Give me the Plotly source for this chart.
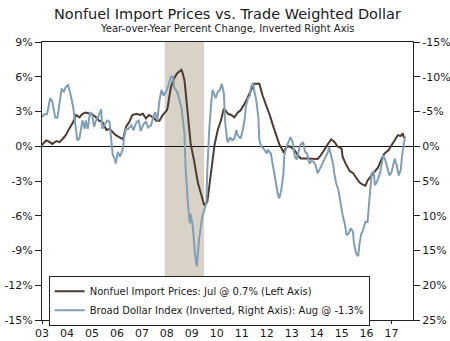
import plotly.graph_objects as go

# ---- Data ----
import_dates = [
    "2003-01-01","2003-03-01","2003-04-15","2003-06-01","2003-08-01","2003-09-15","2003-11-01","2003-12-15",
    "2004-02-01","2004-04-01","2004-05-15","2004-07-01","2004-08-15","2004-10-01","2004-12-01",
    "2005-01-15","2005-03-01","2005-04-15","2005-06-01","2005-08-01","2005-09-15","2005-11-01","2005-12-15",
    "2006-02-15","2006-04-01","2006-05-15","2006-07-01","2006-08-15","2006-10-15","2006-12-01",
    "2007-01-15","2007-03-01","2007-04-15","2007-06-15","2007-08-01","2007-09-15","2007-11-01",
    "2008-01-01","2008-01-15","2008-02-01","2008-03-01","2008-04-15","2008-06-01","2008-08-01","2008-08-15",
    "2008-09-15","2008-11-01","2008-12-15","2009-02-01","2009-04-01","2009-05-15","2009-07-01","2009-08-15",
    "2009-10-15","2009-12-01","2010-01-15","2010-03-01","2010-04-15","2010-06-15","2010-08-01","2010-09-15",
    "2010-11-01","2010-12-15","2011-02-15","2011-04-01","2011-05-15","2011-07-01","2011-09-15","2011-11-01",
    "2012-01-01","2012-02-15","2012-04-01","2012-05-15","2012-07-01","2012-09-01","2012-10-15","2012-12-01",
    "2013-02-15","2013-04-01","2013-05-15","2013-08-15","2013-12-01","2014-01-15","2014-03-01","2014-04-15",
    "2014-06-15","2014-08-01","2014-09-15","2014-11-01","2015-01-01","2015-01-15","2015-03-01","2015-05-01",
    "2015-06-15","2015-08-01","2015-09-15","2015-11-01","2015-12-15","2016-01-15","2016-03-01","2016-05-01",
    "2016-06-15","2016-08-01","2016-09-15","2016-11-15","2017-01-01","2017-02-15","2017-04-01","2017-05-15",
    "2017-06-15","2017-07-01",
]
import_prices = [
    0.1, 0.5, 0.4, 0.2, 0.45, 0.35, 0.65, 0.95,
    1.5, 2.1, 2.7, 2.5, 2.8, 2.9, 2.8,
    2.7, 2.5, 2.2, 2.1, 1.4, 1.5, 1.2, 0.95,
    0.75, 0.6, 1.7, 2.1, 2.7, 2.8, 2.7,
    2.8, 2.4, 2.7, 2.5, 2.2, 2.2, 2.7,
    3.1, 3.4, 4.1, 5.1, 5.85, 6.3, 6.6, 6.4,
    5.7, 2.8, 0.2, -1.2, -3.2, -4.1, -5.1, -4.8,
    -2.1, 0.2, 1.4, 2.2, 3.25, 2.8, 2.7, 2.5,
    2.9, 3.1, 3.7, 4.3, 4.8, 5.4, 5.4, 4.4,
    3.4, 2.7, 1.8, 0.95, 0.2, -0.5, -0.1, 0.0,
    -0.35, -0.8, -1.05, -1.05, -1.1, -1.1, -0.8, -0.35,
    0.2, 0.6, 0.4, 0.0, -0.2, -0.9, -1.5, -2.15,
    -2.3, -2.7, -3.1, -3.3, -3.4, -2.95, -2.6, -2.1,
    -1.85, -1.2, -0.65, -0.35, 0.1, 0.5, 0.95, 0.9,
    1.1, 0.7,
]

dollar_dates = [
    "2003-01-01","2003-02-01","2003-03-15","2003-05-01","2003-06-01","2003-07-15","2003-08-15","2003-10-01",
    "2003-10-15","2003-11-15","2003-12-15","2004-01-15","2004-02-15","2004-04-01","2004-05-01","2004-06-01",
    "2004-07-01","2004-08-01","2004-08-15","2004-09-15","2004-10-01","2004-11-01","2004-12-01","2005-01-01",
    "2005-02-01","2005-03-01","2005-04-01","2005-05-15","2005-06-01","2005-07-15","2005-08-15","2005-09-15",
    "2005-10-01","2005-11-01","2005-12-01","2005-12-15","2006-01-15","2006-02-15","2006-04-01","2006-04-15",
    "2006-05-15","2006-06-15","2006-08-01","2006-09-01","2006-10-15","2006-11-15","2006-12-15","2007-02-01",
    "2007-03-01","2007-04-01","2007-05-15","2007-06-15","2007-07-15","2007-08-15","2007-09-15","2007-10-15",
    "2007-11-15","2008-01-01","2008-02-01","2008-03-01","2008-04-01","2008-04-15","2008-06-01","2008-08-01",
    "2008-09-15","2008-10-01","2008-11-01","2008-12-01","2008-12-15","2009-01-15","2009-02-15","2009-03-15",
    "2009-04-15","2009-06-01","2009-07-01","2009-08-01","2009-08-15","2009-09-15","2009-10-15","2009-11-01",
    "2009-12-01","2009-12-15","2010-01-15","2010-02-15","2010-03-15","2010-04-15","2010-05-01","2010-06-01",
    "2010-06-15","2010-07-15","2010-08-15","2010-09-15","2010-10-15","2010-11-01","2010-12-15","2011-01-15",
    "2011-02-15","2011-03-01","2011-04-01","2011-05-01","2011-05-15","2011-06-15","2011-07-01","2011-08-01",
    "2011-09-01","2011-09-15","2011-10-15","2011-11-15","2012-01-01","2012-01-15","2012-03-01","2012-04-01",
    "2012-05-01","2012-06-15","2012-07-01","2012-08-01","2012-09-01","2012-09-15","2012-10-15","2012-12-01",
    "2012-12-15","2013-01-15","2013-02-15","2013-03-15","2013-04-01","2013-05-01","2013-06-15","2013-07-15",
    "2013-08-15","2013-09-15","2013-10-15","2013-11-15","2013-12-15","2014-01-15","2014-03-01","2014-04-01",
    "2014-05-01","2014-06-15","2014-07-01","2014-08-01","2014-09-01","2014-09-15","2014-10-15","2014-11-15",
    "2014-12-15","2015-01-15","2015-02-15","2015-03-15","2015-04-15","2015-05-15","2015-06-15","2015-07-01",
    "2015-08-01","2015-09-01","2015-09-15","2015-10-15","2015-11-01","2015-12-15","2016-01-15","2016-02-01",
    "2016-03-01","2016-03-15","2016-04-15","2016-05-01","2016-06-01","2016-07-15","2016-08-01","2016-09-01",
    "2016-10-01","2016-11-01","2016-12-01","2017-01-01","2017-02-01","2017-02-15","2017-03-15","2017-04-15",
    "2017-05-15","2017-06-01","2017-07-01","2017-07-15","2017-08-01",
]
dollar_index = [
    -4.2, -4.6, -4.6, -6.9, -6.4, -4.1, -4.1, -7.1,
    -8.3, -7.8, -8.5, -8.8, -7.8, -5.65, -3.3, -0.86,
    -1.1, -2.8, -3.7, -2.5, -3.7, -2.5, -4.8, -4.7,
    -2.8, -3.7, -4.2, -5.3, -2.5, -3.3, -3.7, -3.5,
    -2.06, 1.3, 1.8, 2.5, 0.8, 1.5, 0.3, -1.3,
    -2.5, -2.5, -3.0, -2.3, -3.5, -3.7, -2.2, -3.3,
    -3.5, -2.7, -3.0, -4.2, -4.9, -3.7, -6.6, -8.1,
    -7.3, -8.1, -9.0, -10.0, -10.0, -8.5, -7.8, -5.65,
    -1.8, 3.0, 7.8, 11.1, 9.7, 11.6, 15.4, 17.3,
    13.5, 10.2, 9.2, 8.2, 3.45, -2.8, -6.6, -8.1,
    -7.3, -6.9, -7.8, -8.1, -9.0, -7.6, -3.7, -0.86,
    -0.6, -1.3, -0.86, -1.1, -2.3, -1.6, -1.1, -2.3,
    -4.0, -5.65, -6.9, -7.3, -8.5, -9.1, -8.1, -6.6,
    -4.2, -0.86, 0.1, 0.3, 1.05, 0.5, 1.05, 3.0,
    4.9, 7.05, 7.5, 6.3, 3.9, 1.3, 0.1, -1.1,
    -1.3, -0.6, 1.5, 1.9, 1.05, -0.1, -0.6, 0.8,
    1.05, 2.5, 2.1, 2.2, 2.7, 3.9, 3.0, 2.4,
    1.9, 0.8, 0.1, 1.3, 2.7, 3.9, 5.4, 6.3,
    8.2, 9.9, 11.1, 12.8, 12.5, 11.8, 12.3, 14.0,
    15.4, 15.8, 14.3, 12.6, 12.3, 10.9, 10.9, 8.7,
    5.4, 3.9, 3.6, 5.6, 5.1, 3.9, 3.0, 1.3,
    2.0, 3.2, 4.2, 3.7, 2.2, 1.8, 2.7, 4.2,
    3.4, 1.5, -0.4, -1.3, -1.3,
]

recession = ["2007-12-01", "2009-06-30"]
x_range = ["2003-01-01", "2017-11-10"]
left_ticks = [-15, -12, -9, -6, -3, 0, 3, 6, 9]
left_labels = ["-15%", "-12%", "-9%", "-6%", "-3%", "0%", "3%", "6%", "9%"]
right_ticks = [-15, -10, -5, 0, 5, 10, 15, 20, 25]
right_labels = ["-15%", "-10%", "-5%", "0%", "5%", "10%", "15%", "20%", "25%"]

title = "Nonfuel Import Prices vs. Trade Weighted Dollar"
subtitle = "Year-over-Year Percent Change, Inverted Right Axis"
name_import = "Nonfuel Import Prices: Jul @ 0.7% (Left Axis)"
name_dollar = "Broad Dollar Index (Inverted, Right Axis): Aug @ -1.3%"

BROWN = "#4b3b30"
BLUE = "#809fb6"
FONT = "DejaVu Sans"
TXT = "#1a1a1a"

fig = go.Figure()
fig.add_trace(go.Scatter(x=import_dates, y=import_prices, name=name_import, mode="lines",
                         line=dict(color=BROWN, width=2), yaxis="y"))
fig.add_trace(go.Scatter(x=dollar_dates, y=dollar_index, name=name_dollar, mode="lines",
                         line=dict(color=BLUE, width=2), yaxis="y2"))

fig.add_shape(type="rect", xref="x", yref="paper", x0=recession[0], x1=recession[1], y0=0, y1=1,
              fillcolor="#d8d3c6", line=dict(width=0), layer="below")

tickfont = dict(family=FONT, size=11, color=TXT)
fig.update_layout(
    width=450, height=341,
    margin=dict(l=42, r=37, t=42, b=21),
    paper_bgcolor="white", plot_bgcolor="white",
    showlegend=True,
    legend=dict(x=0.018, y=0.159, xanchor="left", yanchor="top",
                bgcolor="white", bordercolor="#222", borderwidth=1,
                font=dict(family=FONT, size=10, color=TXT),
                itemwidth=30, tracegroupgap=0),
    xaxis=dict(type="date", range=x_range, dtick="M12", tick0="2003-01-01", tickformat="%y",
               ticks="outside", ticklen=3, tickcolor="#222", showgrid=False, zeroline=False,
               showline=True, linecolor="#222", linewidth=1, mirror=True, automargin=False,
               tickfont=tickfont),
    xaxis2=dict(type="date", range=x_range, dtick="M12", tick0="2003-01-01", overlaying="x",
                anchor="y", side="bottom", ticks="inside", ticklen=3, tickcolor="#222",
                showticklabels=False, showgrid=False, zeroline=False, showline=False,
                automargin=False),
    yaxis=dict(range=[-15, 9], tickvals=left_ticks, ticktext=left_labels, ticks="outside", ticklen=6,
               tickcolor="#222", showgrid=False, zeroline=True, zerolinecolor="#111", zerolinewidth=1,
               showline=True, linecolor="#222", linewidth=1, tickfont=tickfont, automargin=False),
    yaxis2=dict(range=[25, -15], tickvals=right_ticks, ticktext=right_labels, overlaying="y",
                side="right", ticks="outside", ticklen=6, tickcolor="#222", showgrid=False,
                zeroline=False, showline=True, linecolor="#222", linewidth=1, tickfont=tickfont,
                automargin=False),
    yaxis3=dict(range=[-15, 9], tickvals=left_ticks, overlaying="y", side="left", anchor="x",
                ticks="inside", ticklen=3, tickcolor="#222", showticklabels=False,
                showgrid=False, zeroline=False, showline=False, automargin=False),
    yaxis4=dict(range=[25, -15], tickvals=right_ticks, overlaying="y", side="right", anchor="x",
                ticks="inside", ticklen=3, tickcolor="#222", showticklabels=False,
                showgrid=False, zeroline=False, showline=False, automargin=False),
    annotations=[
        dict(text=title, xref="paper", yref="paper", x=0.5, y=1, yshift=28, xanchor="center",
             yanchor="middle", showarrow=False, font=dict(family=FONT, size=14.5, color=TXT)),
        dict(text=subtitle, xref="paper", yref="paper", x=0.5, y=1, yshift=14, xanchor="center",
             yanchor="middle", showarrow=False, font=dict(family=FONT, size=10, color=TXT)),
    ],
)

fig.write_html("out.html")
